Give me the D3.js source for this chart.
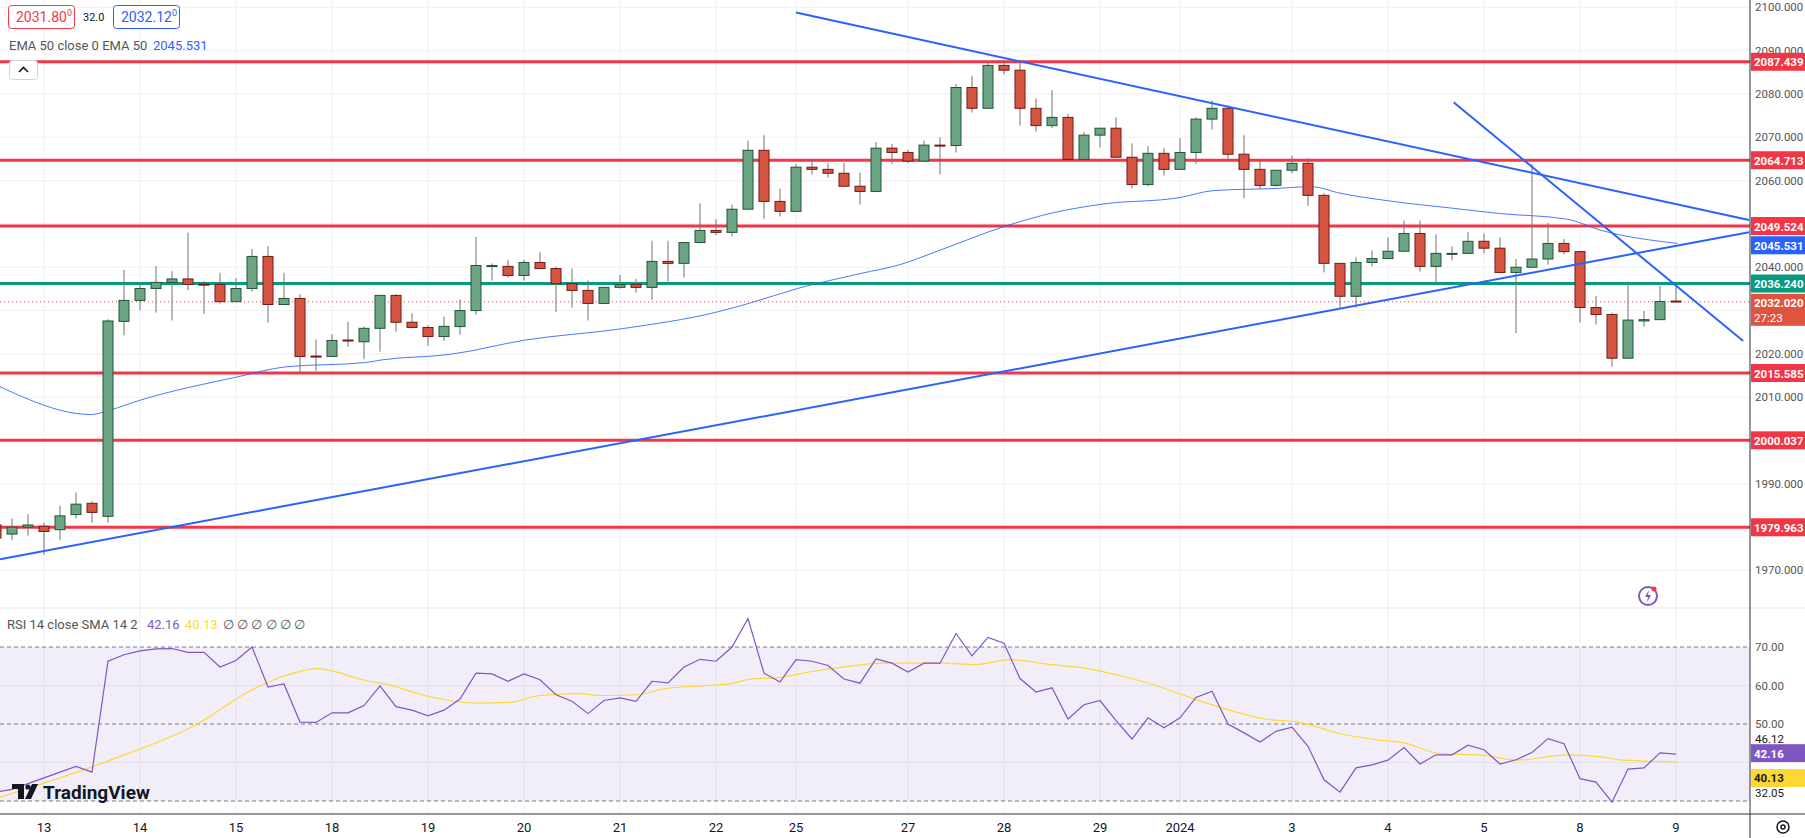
<!DOCTYPE html>
<html>
<head>
<meta charset="utf-8">
<script src="https://cdn.jsdelivr.net/npm/d3@7"></script>
<style>
  html, body { margin: 0; padding: 0; background: #fff; }
  svg { display: block; font-family: Roboto, "Liberation Sans", sans-serif; }
</style>
</head>
<body>
<svg id="chart" width="1805" height="838"></svg>
<script>
'use strict';

// 4H candles, index -1 is the cut one at the left edge
var firstIndex = -1;
var opens  = [1980.5,1978.4,1980,1980.2,1979.4,1982.9,1985.5,1982.5,2027.5,2032.35,2035.1,2036.5,2037.3,2036.1,2036.05,2032.05,2035.1,2042.5,2031.4,2032.8,2019.5,2019.4,2023.2,2022.8,2025.9,2033.5,2027.3,2026.1,2024.0,
  2026.3,2030.0,2040.4,2040.2,2038.1,2041.1,2039.7,2036.2,2034.65,2031.65,2035.35,2036.05,2035.35,2041.35,2040.9,2045.7,2048.5,2048.05,2053.4,2067.0,2055.2,2052.9,2063.1,2062.6,2061.7,2058.7,2057.5,2067.5,
  2066.5,2064.5,2068.2,2068.1,2081.5,2076.7,2086.6,2085.5,2076.7,2072.7,2074.6,2064.9,2070.5,2072.1,2065.4,2059.1,2066.3,2062.6,2066.5,2074.2,2076.7,2066.1,2062.6,2058.9,2062.4,2064.0,2056.6,2040.9,2033.3,2041.1,2042.0,2043.7,2047.8,2040.2,2043.2,2043.2,2046.0,
  2044.4,2038.8,2040.0,2041.9,2045.5,2043.6,2030.7,2029.1,2019.0,2027.6,2027.9,2032.2];
var highs  = [1983,1982,1983,1981,1985,1988,1986,2028,2039.4,2036.3,2040.3,2039.1,2048,2036.8,2038.7,2037.5,2044.2,2044.9,2038.7,2033.8,2023.3,2024.5,2027.4,2026.3,2033.5,2033.8,2029.4,2026.6,2028.6,
  2032.6,2047.0,2040.9,2041.7,2041.7,2043.5,2040.2,2039.7,2037.0,2035.5,2038.2,2037.3,2046.1,2046.1,2045.7,2054.8,2051.1,2054.4,2069.2,2070.5,2058.1,2063.8,2065.0,2064.0,2064.1,2061.8,2068.9,2068.5,
  2067.1,2069.2,2070.0,2082.3,2084.2,2087.6,2087.9,2087.4,2079.0,2080.9,2075.4,2071.2,2072.1,2074.6,2068.6,2068.0,2067.5,2069.8,2074.6,2078.5,2077.4,2070.5,2064.6,2062.4,2065.8,2065.1,2057.1,2040.9,2042.3,2043.9,2046.9,2050.8,2050.8,2047.6,2044.8,2048.1,2047.8,
  2046.9,2041.9,2063.8,2050.2,2046.5,2043.6,2033.4,2029.5,2036.7,2029.9,2035.7,2035.7];
var lows   = [1976,1977,1978,1973.6,1977,1982,1981,1981,2024.3,2030.1,2029.5,2027.7,2034.7,2029.2,2031.6,2032,2034.4,2027.2,2031.4,2015.8,2016.1,2019.4,2021.6,2018.8,2020.5,2025.1,2026.1,2021.9,2023,
  2024.4,2029.0,2036.9,2037.6,2036.9,2039.7,2029.7,2030.7,2027.7,2031.65,2035.1,2034.1,2032.5,2036.7,2037.6,2045.7,2047.4,2047.1,2053.4,2051.2,2051.7,2052.9,2061.4,2060.7,2058.7,2054.5,2057.5,2063.9,
  2064.0,2064.5,2061.4,2066.5,2075.7,2076.7,2084.5,2072.7,2071.3,2072.1,2064.9,2064.9,2067.7,2065.4,2058.2,2058.7,2061.2,2062.6,2063.9,2071.8,2064.9,2055.9,2058.0,2058.6,2061.7,2054.2,2038.8,2030.7,2030.7,2040.2,2042.0,2043.7,2039.0,2036.5,2041.6,2043.2,2043.2,
  2038.6,2024.8,2040.0,2040.6,2043.0,2027.2,2026.8,2017.0,2019.0,2026.3,2027.9,2032.0];
var closes = [1977.5,1980,1980.5,1979,1982.6,1985.3,1983.4,2027.6,2032.35,2035.1,2036.5,2037.3,2036.05,2035.9,2032.05,2035.1,2042.5,2031.4,2032.8,2019.4,2019.3,2023.1,2023.0,2025.9,2033.5,2027.3,2026.1,2024.0,2026.35,
  2030.0,2040.4,2040.4,2038.1,2041.1,2039.7,2036.2,2034.65,2031.65,2035.35,2036.0,2035.35,2041.35,2040.9,2045.7,2048.5,2048.05,2053.4,2067.0,2055.2,2052.9,2063.1,2062.6,2061.7,2058.7,2057.5,2067.5,2066.5,
  2064.5,2068.2,2068.1,2081.5,2076.7,2086.6,2085.5,2076.7,2072.7,2074.6,2064.9,2070.5,2072.1,2065.4,2059.1,2066.3,2062.6,2066.5,2074.2,2076.7,2066.1,2062.6,2058.9,2062.4,2064.0,2056.6,2040.9,2033.3,2041.1,2042.0,2043.7,2047.8,2040.2,2043.2,2043.2,2045.99,2044.4,
  2038.8,2040.0,2041.9,2045.5,2043.6,2030.7,2029.1,2019.0,2027.8,2027.9,2032.1,2032.02];

// EMA 50: [candle index, value]
var emaPoints = [[-0.75,2012.4],[4.97,2006.0],[6.1,2007.0],[8,2009.3],[14.1,2014.7],[17.1,2017.0],[22.1,2018.0],[23.1,2018.6],[27.4,2019.9],
  [32.1,2023.2],[38.1,2025.8],[44.1,2029.7],[46.1,2031.7],[49.1,2035.1],[53.1,2038.6],[55.5,2040.6],[57.9,2043.8],[62.1,2049.5],[65.1,2052.6],
  [68.2,2054.6],[73,2056.1],[75.1,2057.7],[79,2058.2],[81.2,2058.6],[83,2057.1],[86.1,2055.3],[90.1,2053.6],[93,2052.4],[97.2,2051.1],[99.25,2048.6],[104.1,2045.5]];

// RSI 14, one value per candle starting at index -1
var rsiValues = [32.3,33,34.5,36,37.5,39,37.5,66.3,68.0,69.0,69.5,69.6,68.6,68.6,64.8,66.5,70.0,59.6,60.4,50.5,50.4,52.9,52.9,54.8,59.9,54.5,53.6,52.1,53.6,
  56.5,63.2,63.0,61.1,63.0,61.5,57.6,55.9,52.7,56.1,56.8,55.9,61.1,60.7,64.8,66.8,66.3,70,77.4,63.2,60.9,66.7,66.3,65.2,61.7,60.6,66.9,
  65.8,63.5,65.8,65.8,73.5,67.7,72.5,71.0,61.8,58.3,59.4,51.3,55.0,56.1,50.9,46.1,51.6,49.0,51.6,56.9,58.5,50.0,47.7,45.3,48.1,49.2,44.2,35.5,32.3,38.6,39.4,40.6,43.9,39.6,42.0,42.0,44.5,43.3,
  39.6,40.7,42.6,46.2,44.9,35.8,34.9,29.7,38.3,38.6,42.5,42.16];
// RSI SMA 14: [candle index, value]
var rsiSmaPoints = [[-0.75,31],[6.4,41],[11.5,49.8],[15,58.9],[17.1,62.6],[19.1,64.4],[22.1,61.3],[23.3,60.4],[26,57.2],[29.1,55.4],[31.1,55.6],[33,57.4],
  [35.3,57.9],[37,57.4],[39.1,57.6],[40.8,59.2],[43,59.9],[44.8,60.4],[46.3,61.7],[47.8,62.0],[50.1,63.7],[51.8,64.7],[54.4,65.8],[58,65.8],[60.2,65.4],
  [62.4,66.7],[65,65.4],[67.2,64.4],[69.4,62.4],[71.2,60.4],[73.4,57.2],[75.6,54.2],[78.3,51.3],[80.4,50.5],[83.1,47.4],[85.3,45.9],[87,45.1],[89.3,42.3],
  [91.9,41.9],[94.1,40.6],[97.2,42.0],[99.4,41.4],[100.7,40.6],[104.1,40.13]];

var levelsRed = [2087.439, 2064.713, 2049.524, 2015.585, 2000.037, 1979.963];
var levelGreen = 2036.240;
var lastPrice = 2032.020;
var emaLast = 2045.531;

// drawn trend lines, ends as [candle index, price]
var trendLines = [
  [[49, 2098.8], [108.56, 2050.9]],
  [[-0.75, 1972.6], [108.56, 2048.1]],
  [[90.1, 2078.1], [108.2, 2022.97]]
];

var priceTicks = [1970, 1980, 1990, 2000, 2010, 2020, 2030, 2040, 2050, 2060, 2070, 2080, 2090, 2100];
var dayTicks = [[2,'13'],[8,'14'],[14,'15'],[20,'18'],[26,'19'],[32,'20'],[38,'21'],[44,'22'],[49,'25'],[56,'27'],[62,'28'],[68,'29'],[73,'2024'],[80,'3'],[86,'4'],[92,'5'],[98,'8'],[104,'9']];
var rsiAxisLabels = [[70,'70.00'],[60,'60.00'],[50,'50.00'],[46.12,'46.12'],[32.05,'32.05']];

var W = 1805, H = 838;
var axisX = 1750, paneSplit = 608, timeAxisY = 814;
var svg = d3.select('#chart');

var x = d3.scaleLinear().domain([0, 1]).range([12, 28]);
var y = d3.scaleLinear().domain([2049.524, 2015.585]).range([226, 373]);
var yr = d3.scaleLinear().domain([70, 30]).range([647, 801]);

var defs = svg.append('defs');
defs.append('clipPath').attr('id', 'clip-price').append('rect').attr('x', 0).attr('y', 0).attr('width', axisX).attr('height', paneSplit);
defs.append('clipPath').attr('id', 'clip-rsi').append('rect').attr('x', 0).attr('y', paneSplit).attr('width', axisX).attr('height', timeAxisY - paneSplit);

var grid = svg.append('g').attr('stroke', '#eef0f4').attr('stroke-width', 1);
dayTicks.forEach(function(d) {
  grid.append('line').attr('x1', x(d[0])).attr('x2', x(d[0])).attr('y1', 0).attr('y2', timeAxisY);
});
priceTicks.forEach(function(p) {
  grid.append('line').attr('x1', 0).attr('x2', axisX).attr('y1', y(p)).attr('y2', y(p));
});
[60, 40].forEach(function(v) {
  grid.append('line').attr('x1', 0).attr('x2', axisX).attr('y1', yr(v)).attr('y2', yr(v));
});
svg.append('line').attr('x1', 0).attr('x2', W).attr('y1', paneSplit).attr('y2', paneSplit).attr('stroke', '#e0e3eb');

// price pane
var price = svg.append('g').attr('clip-path', 'url(#clip-price)');

levelsRed.forEach(function(p) {
  price.append('line').attr('x1', 0).attr('x2', axisX).attr('y1', y(p)).attr('y2', y(p)).attr('stroke', '#f23645').attr('stroke-width', 3);
});
price.append('line').attr('x1', 0).attr('x2', axisX).attr('y1', y(levelGreen)).attr('y2', y(levelGreen)).attr('stroke', '#089981').attr('stroke-width', 3);
price.append('line').attr('x1', 0).attr('x2', axisX).attr('y1', y(lastPrice)).attr('y2', y(lastPrice))
  .attr('stroke', '#f23645').attr('stroke-width', 1).attr('stroke-dasharray', '1,3');

price.append('path').datum(emaPoints)
  .attr('d', d3.line().x(function(d) { return x(d[0]); }).y(function(d) { return y(d[1]); }).curve(d3.curveMonotoneX))
  .attr('fill', 'none').attr('stroke', '#2962ff').attr('stroke-width', 1).attr('stroke-opacity', 0.85);

var candles = closes.map(function(c, k) {
  return {i: k + firstIndex, o: opens[k], h: highs[k], l: lows[k], c: c};
});
var cg = price.append('g').selectAll('g').data(candles).enter().append('g');
cg.append('line')
  .attr('x1', function(d) { return x(d.i); }).attr('x2', function(d) { return x(d.i); })
  .attr('y1', function(d) { return y(d.h); }).attr('y2', function(d) { return y(d.l); })
  .attr('stroke', '#737375').attr('stroke-width', 1);
cg.append('rect')
  .attr('x', function(d) { return x(d.i) - 5; }).attr('width', 10)
  .attr('y', function(d) { return y(Math.max(d.o, d.c)); })
  .attr('height', function(d) { return Math.max(1, Math.abs(y(d.o) - y(d.c))); })
  .attr('fill', function(d) { return d.c >= d.o ? '#6ba583' : '#d75442'; })
  .attr('stroke', function(d) { return d.c >= d.o ? '#225437' : '#6f1b13'; })
  .attr('stroke-width', 1);

trendLines.forEach(function(t) {
  price.append('line').attr('x1', x(t[0][0])).attr('y1', y(t[0][1])).attr('x2', x(t[1][0])).attr('y2', y(t[1][1]))
    .attr('stroke', '#2962ff').attr('stroke-width', 2);
});

// rsi pane
var rsi = svg.append('g').attr('clip-path', 'url(#clip-rsi)');
rsi.append('rect').attr('x', 0).attr('width', axisX).attr('y', yr(70)).attr('height', yr(30) - yr(70)).attr('fill', '#7e57c2').attr('fill-opacity', 0.1);
[70, 50, 30].forEach(function(v) {
  rsi.append('line').attr('x1', 0).attr('x2', axisX).attr('y1', yr(v)).attr('y2', yr(v))
    .attr('stroke', '#787b86').attr('stroke-dasharray', '4,3');
});
rsi.append('path').datum(rsiSmaPoints)
  .attr('d', d3.line().x(function(d) { return x(d[0]); }).y(function(d) { return yr(d[1]); }).curve(d3.curveMonotoneX))
  .attr('fill', 'none').attr('stroke', '#fdd835').attr('stroke-width', 1.2);
rsi.append('path').datum(rsiValues)
  .attr('d', d3.line().x(function(d, k) { return x(k + firstIndex); }).y(function(d) { return yr(d); }))
  .attr('fill', 'none').attr('stroke', '#7e57c2').attr('stroke-width', 1.2);

// axes
svg.append('line').attr('x1', axisX).attr('x2', axisX).attr('y1', 0).attr('y2', H).attr('stroke', '#2a2e39');
svg.append('line').attr('x1', 0).attr('x2', W).attr('y1', timeAxisY).attr('y2', timeAxisY).attr('stroke', '#2a2e39');

// tags sit on top of the axis; ticks hidden where a tag covers them
var tagYs = levelsRed.concat([levelGreen, lastPrice, emaLast]).map(function(p) { return y(p); });
var axisText = svg.append('g').attr('font-size', 11.5).attr('fill', '#555');
priceTicks.forEach(function(p) {
  var covered = tagYs.some(function(t) { return Math.abs(t - y(p)) < 11; });
  if (covered) { return; }
  axisText.append('text').attr('x', axisX + 5).attr('y', y(p) + 4).text(p.toFixed(3));
});
rsiAxisLabels.forEach(function(d) {
  axisText.append('text').attr('x', axisX + 5).attr('y', yr(d[0]) + 4).attr('fill', d[1] === '46.12' || d[1] === '32.05' ? '#131722' : '#555').text(d[1]);
});
dayTicks.forEach(function(d) {
  axisText.append('text').attr('x', x(d[0])).attr('y', 832).attr('text-anchor', 'middle').attr('font-size', 13).attr('fill', '#131722').text(d[1]);
});

function priceTag(yPos, color, label, textColor, h) {
  var g = svg.append('g');
  g.append('rect').attr('x', axisX + 1).attr('y', yPos - 9).attr('width', W - axisX).attr('height', h || 18).attr('fill', color);
  g.append('text').attr('x', axisX + 4).attr('y', yPos + 4.5).attr('font-size', 11.5).attr('font-weight', 'bold')
    .attr('fill', textColor || '#fff').text(label);
  return g;
}
levelsRed.forEach(function(p) { priceTag(y(p), '#f23645', p.toFixed(3)); });
priceTag(y(emaLast) + 2, '#2962ff', emaLast.toFixed(3));
priceTag(y(levelGreen), '#089981', levelGreen.toFixed(3));
var lastTag = priceTag(y(lastPrice) + 1, '#e0533f', lastPrice.toFixed(3), '#fff', 32);
lastTag.append('text').attr('x', axisX + 4).attr('y', y(lastPrice) + 20).attr('font-size', 11.5).attr('fill', '#fff').text('27:23');
priceTag(yr(42.16) - 1, '#7e57c2', '42.16');
priceTag(yr(40.13) + 16, '#fdd835', '40.13', '#131722');

// legend
var legend = svg.append('g').attr('font-size', 13);
legend.append('rect').attr('x', 8.5).attr('y', 5.5).attr('width', 66).attr('height', 23).attr('rx', 3).attr('fill', '#fff').attr('stroke', '#f23645');
legend.append('text').attr('x', 16).attr('y', 22).attr('fill', '#f23645').attr('font-size', 14).text('2031.80').append('tspan').attr('font-size', 9).attr('dy', -6).text('0');
legend.append('text').attr('x', 83).attr('y', 21).attr('fill', '#131722').attr('font-size', 11).text('32.0');
legend.append('rect').attr('x', 113.5).attr('y', 5.5).attr('width', 66).attr('height', 23).attr('rx', 3).attr('fill', '#fff').attr('stroke', '#2962ff');
legend.append('text').attr('x', 121).attr('y', 22).attr('fill', '#2962ff').attr('font-size', 14).text('2032.12').append('tspan').attr('font-size', 9).attr('dy', -6).text('0');
legend.append('text').attr('x', 9).attr('y', 50).attr('fill', '#555').text('EMA 50 close 0 EMA 50');
legend.append('text').attr('x', 153).attr('y', 50).attr('fill', '#2962ff').text('2045.531');
legend.append('rect').attr('x', 9.5).attr('y', 60.5).attr('width', 28).attr('height', 19).attr('rx', 3).attr('fill', '#fff').attr('stroke', '#d1d4dc');
legend.append('path').attr('d', 'M19,72 L23.5,67.5 L28,72').attr('fill', 'none').attr('stroke', '#131722').attr('stroke-width', 1.6);

var rsiLegend = svg.append('g').attr('font-size', 13).attr('transform', 'translate(7,629)');
rsiLegend.append('text').attr('fill', '#555').text('RSI 14 close SMA 14 2');
rsiLegend.append('text').attr('x', 140).attr('fill', '#7e57c2').text('42.16');
rsiLegend.append('text').attr('x', 178).attr('fill', '#fdd835').text('40.13');
rsiLegend.append('text').attr('x', 216).attr('fill', '#555').text('∅ ∅ ∅ ∅ ∅ ∅');

// watermark
var wm = svg.append('g').attr('transform', 'translate(12,784)').attr('fill', '#131722');
wm.append('path').attr('d', 'M0,0 H12 V15 H6 V5 H0 Z');
wm.append('circle').attr('cx', 16).attr('cy', 3).attr('r', 2.6);
wm.append('path').attr('d', 'M20,0 H26 L19,15 H13 Z');
wm.append('text').attr('x', 31).attr('y', 15).attr('font-size', 19).attr('font-weight', 'bold').text('TradingView');

// small icons
var bolt = svg.append('g').attr('transform', 'translate(1648,596)');
bolt.append('circle').attr('r', 9).attr('fill', 'none').attr('stroke', '#7e57c2').attr('stroke-width', 2);
bolt.append('path').attr('d', 'M1,-6 L-3,1 L0,1 L-1,6 L3,-1 L0,-1 Z').attr('fill', '#7e57c2');
bolt.append('circle').attr('cx', 6).attr('cy', -7).attr('r', 2.5).attr('fill', '#f23645');
var gear = svg.append('g').attr('transform', 'translate(1783,827)');
gear.append('circle').attr('r', 6).attr('fill', 'none').attr('stroke', '#131722').attr('stroke-width', 1.5);
gear.append('circle').attr('r', 2).attr('fill', 'none').attr('stroke', '#131722').attr('stroke-width', 1.5);
</script>
</body>
</html>
